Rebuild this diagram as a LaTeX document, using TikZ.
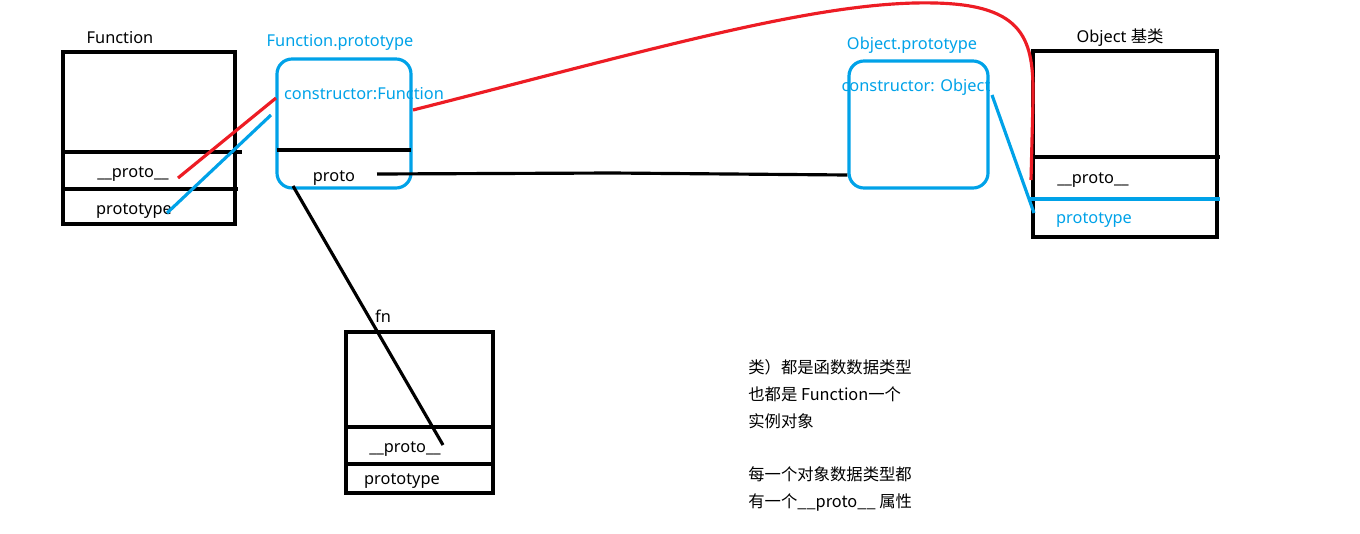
\documentclass[tikz,border=0pt]{standalone}
\usepackage{fontspec}
\setmainfont{Noto Sans}
\newfontfamily\cjk{Noto Sans CJK SC}
\usetikzlibrary{positioning}
\definecolor{paintblue}{RGB}{0,162,232}
\definecolor{paintred}{RGB}{237,28,36}

\begin{document}
\begin{tikzpicture}[x=0.2mm, y=-0.2mm,
    objbox/.style={draw, line width=1.8pt, rectangle, inner sep=0pt},
    protobox/.style={draw=paintblue, line width=1.8pt, rectangle, rounded corners=3mm, inner sep=0pt},
    lbl/.style={font=\fontsize{9.3}{11}\selectfont, inner sep=0pt, yshift=-0.6mm},
    bluelbl/.style={lbl, text=paintblue},
    sep/.style={line width=1.8pt},
    link/.style={line width=1.8pt}
  ]
    \useasboundingbox (0,0) rectangle (1360,533);

    % boxes
    \node[objbox, minimum width=34.4mm, minimum height=34.4mm] (func) at (149,138) {};
    \node[protobox, minimum width=26.8mm, minimum height=25.8mm] (funcproto) at (344,123.5) {};
    \node[protobox, minimum width=27.8mm, minimum height=25.4mm] (objproto) at (918.5,124.5) {};
    \node[objbox, minimum width=36.8mm, minimum height=37.2mm] (obj) at (1125,144) {};
    \node[objbox, minimum width=29.4mm, minimum height=32.2mm] (fn) at (419.5,412.5) {};

    \draw[sep] (63,152) -- (242,152);
    \draw[sep] (63,189) -- (238,189);
    \draw[sep] (277,150) -- (411,150);
    \draw[sep] (1035,157) -- (1220,157);
    \draw[sep, paintblue] (1030,199) -- (1220,199);
    \draw[sep] (346,427) -- (494,427);
    \draw[sep] (348,464) -- (493,464);

    % labels
    \node[lbl] (functitle) at (120,35) {Function};
    \node[lbl] (funcprotolbl) at (133,171) {\_\_proto\_\_};
    \node[lbl] (funcprototype) at (134,208) {prototype};
    \node[bluelbl] (fptitle) at (340,39) {Function.prototype};
    \node[bluelbl] (fpctor) at (364,91) {constructor:Function};
    \node[lbl] (fpproto) at (334,175) {proto};
    \node[bluelbl] (optitle) at (912,42) {Object.prototype};
    \node[bluelbl] (opctor) at (916,84) {constructor: Object};
    \node[lbl] (objtitle) at (1120,35) {Object {\cjk 基类}};
    \node[lbl] (objprotolbl) at (1093,177) {\_\_proto\_\_};
    \node[bluelbl] (objprototype) at (1094,217) {prototype};
    \node[lbl] (fntitle) at (383,313) {fn};
    \node[lbl] (fnprotolbl) at (405,446) {\_\_proto\_\_};
    \node[lbl] (fnprototype) at (402,478) {prototype};

    \node[lbl, align=left, anchor=north west, font=\fontsize{9.3}{15.3}\selectfont\cjk] (note) at (748,356)
      {类）都是函数数据类型\\也都是 Function一个\\实例对象\\[15.3pt]每一个对象数据类型都\\有一个\_\_proto\_\_ 属性};

    % connectors
    \coordinate (fredstart) at (178,178);
    \coordinate (fredend) at (276,98);
    \coordinate (fbluestart) at (167,213);
    \coordinate (fblueend) at (271,115);
    \coordinate (protostart) at (377,174);
    \coordinate (fnstart) at (293,186);
    \coordinate (fnend) at (443,445);
    \coordinate (ctorstart) at (413,110);
    \coordinate (ctorend) at (1031,180);
    \coordinate (obluestart) at (992,95);
    \coordinate (oblueend) at (1034,213);

    \draw[link, paintred] (fredstart) -- (fredend);
    \draw[link, paintblue] (fbluestart) -- (fblueend);
    \draw[link] (protostart) -- (612,173) -- (objproto.west |- 0,175);
    \draw[link] (fnstart) -- (fnend);
    \draw[link, paintblue] (obluestart) -- (oblueend);
    \draw[link, paintred] (ctorstart) .. controls (650,50) and (820,0) .. (935,3)
      .. controls (1025,5) and (1034,40) .. (1033,100) -- (ctorend);
  \end{tikzpicture}
\end{document}
